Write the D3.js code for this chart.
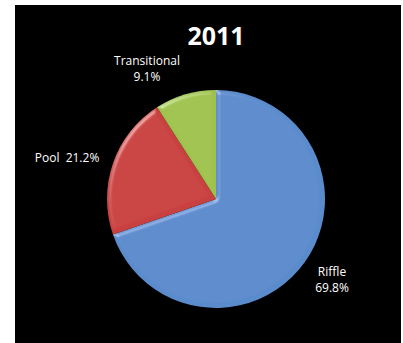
<!DOCTYPE html>
<html>
<head>
<meta charset="utf-8">
<script src="https://cdn.jsdelivr.net/npm/d3@7"></script>
<style>
  html, body { margin: 0; padding: 0; background: #ffffff; }
  svg { display: block; }
  text { font-family: "Open Sans", "Noto Sans", sans-serif; fill: #ffffff; }
</style>
</head>
<body>
<svg id="chart" width="403" height="343"></svg>
<script>
// Habitat share for 2011
const title = "2011";
const categories = ["Riffle", "Pool", "Transitional"];
const shares = [69.8, 21.2, 9.1];
const labelText = ["69.8%", "21.2%", "9.1%"];
const colors = ["#5a8bcc", "#c9413f", "#a0c24e"];

const W = 403, H = 343;
const svg = d3.select("#chart");

// Black chart area
svg.append("rect")
  .attr("x", 15).attr("y", 5)
  .attr("width", 386).attr("height", H - 5)
  .attr("fill", "#000000");

// Soft round bevel filter for the slices
const defs = svg.append("defs");
const bevel = defs.append("filter")
  .attr("id", "bevel")
  .attr("x", "-10%").attr("y", "-10%")
  .attr("width", "120%").attr("height", "120%");
bevel.append("feGaussianBlur").attr("in", "SourceAlpha").attr("stdDeviation", 2.2).attr("result", "blur");
const spec = bevel.append("feSpecularLighting")
  .attr("in", "blur").attr("surfaceScale", 3).attr("specularConstant", 0.6)
  .attr("specularExponent", 22).attr("lighting-color", "#ffffff").attr("result", "spec");
spec.append("feDistantLight").attr("azimuth", 225).attr("elevation", 28);
bevel.append("feComposite").attr("in", "spec").attr("in2", "SourceAlpha").attr("operator", "in").attr("result", "specIn");
bevel.append("feComposite").attr("in", "SourceGraphic").attr("in2", "specIn")
  .attr("operator", "arithmetic").attr("k1", 0).attr("k2", 1).attr("k3", 0.5).attr("k4", 0);

const cx = 216, cy = 199, radius = 109;

const pie = d3.pie().sort(null).value(d => d.value);
const arc = d3.arc().innerRadius(0).outerRadius(radius);
const data = categories.map((c, i) => ({ name: c, value: shares[i], label: labelText[i], color: colors[i] }));
const arcs = pie(data);

const g = svg.append("g").attr("transform", `translate(${cx},${cy})`);

g.selectAll("path.slice")
  .data(arcs)
  .join("path")
  .attr("class", "slice")
  .attr("d", arc)
  .attr("fill", d => d.data.color)
  .attr("filter", "url(#bevel)");

// Title
svg.append("text")
  .attr("x", 216).attr("y", 45)
  .attr("text-anchor", "middle")
  .attr("font-size", 25)
  .attr("font-weight", "bold")
  .text(title);

// Data labels: anchor position relative to the pie centre and layout per slice
const labelLayout = {
  "Riffle":       { dx: 116, dy: 77, stacked: true },
  "Pool":         { dx: -149, dy: -37, stacked: false },
  "Transitional": { dx: -69, dy: -134, stacked: true }
};

arcs.forEach(a => {
  const L = labelLayout[a.data.name];
  const t = g.append("text")
    .attr("text-anchor", "middle")
    .attr("font-size", 12);
  if (L.stacked) {
    t.append("tspan").attr("x", L.dx).attr("y", L.dy).text(a.data.name);
    t.append("tspan").attr("x", L.dx).attr("y", L.dy + 16).text(a.data.label);
  } else {
    t.attr("x", L.dx).attr("y", L.dy).text(a.data.name + "\u00a0\u00a0" + a.data.label);
  }
});
</script>
</body>
</html>
